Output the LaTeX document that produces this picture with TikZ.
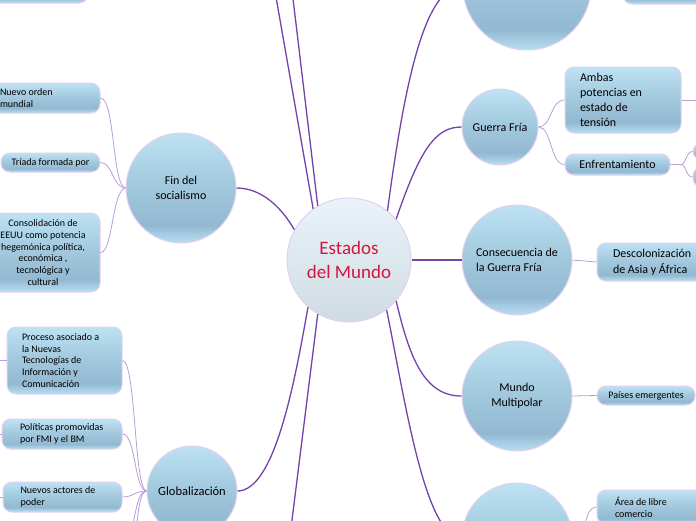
\documentclass[tikz,border=0pt]{standalone}
\usepackage{fontspec}
\setmainfont{Carlito}
\definecolor{btop}{RGB}{189,226,244}
\definecolor{bmid}{RGB}{163,201,222}
\definecolor{bdark}{RGB}{146,185,209}
\definecolor{bbot}{RGB}{184,224,243}
\definecolor{ctop}{RGB}{234,243,249}
\definecolor{cbot}{RGB}{207,219,227}
\definecolor{bord}{RGB}{226,208,240}
\definecolor{mainc}{RGB}{115,66,170}
\definecolor{subc}{RGB}{183,158,214}
\definecolor{crim}{RGB}{210,22,62}
\newcommand\natsp{\spaceskip=0pt\relax\xspaceskip=0pt\relax}
\pgfdeclareverticalshading{bub}{100bp}{color(0bp)=(bbot); color(25bp)=(bbot); color(33bp)=(bdark); color(52bp)=(bmid); color(75bp)=(btop); color(100bp)=(btop)}
\pgfdeclareverticalshading{ctr}{100bp}{color(0bp)=(cbot); color(25bp)=(cbot); color(75bp)=(ctop); color(100bp)=(ctop)}
\begin{document}
\begin{tikzpicture}[x=1pt,y=-1pt,
  bubble/.style={circle, draw=bord, line width=1pt, shade, shading=bub, inner sep=0pt, align=center, font=\fontsize{12}{15.5}\selectfont},
  leaf/.style={rectangle, rounded corners=9pt, draw=bord, line width=1pt, shade, shading=bub, inner ysep=0pt, font=\fontsize{10}{12}\selectfont},
  bigleaf/.style={leaf, font=\fontsize{12}{15}\selectfont},
  main/.style={draw=mainc, line width=1.3pt},
  sub/.style={draw=subc, line width=0.8pt}]
\useasboundingbox (0,0) rectangle (696,520);
\clip (0,0) rectangle (696,520);
% central and main nodes
\node[circle, draw=bord, line width=1pt, shade, shading=ctr, minimum size=124pt, inner sep=0pt, align=center, text=crim, font=\fontsize{19}{24}\selectfont] (center) at (349,260) {Estados\\del Mundo};
\node[bubble, minimum size=128pt] (tc) at (527,-14) {};
\node[bubble, minimum size=76pt] (guerra) at (500,127) {Guerra Fría};
\node[bubble, minimum size=110pt, align=left] (cons) at (517,260) {Consecuencia de\\la Guerra Fría};
\node[bubble, minimum size=110pt] (mundo) at (517,396) {Mundo\\Multipolar};
\node[bubble, minimum size=110pt] (bot) at (517,538) {};
\node[bubble, minimum size=110pt] (fin) at (181,188) {Fin del\\socialismo};
\node[bubble, minimum size=90pt, font=\fontsize{12.5}{15}\selectfont] (glob) at (192,491) {Globalización};
% leaves
\node[leaf, minimum width=98pt, minimum height=33pt] (tl) at (39,-13.5) {};
\node[leaf, minimum width=97pt, minimum height=34pt] (tr) at (671.5,-13) {};
\node[leaf, minimum width=110pt, minimum height=30pt, text width=90pt, inner xsep=10pt, align=left] (nuevo) at (45,98) {\natsp Nuevo orden\\mundial};
\node[leaf, minimum width=99pt, minimum height=19pt, align=center] (triada) at (50.5,162.5) {Tríada formada por};
\node[leaf, minimum width=114pt, minimum height=79pt, align=center, font=\fontsize{10}{11.8}\selectfont] (consol) at (43,252.5) {Consolidación de\\EEUU como potencia\\hegemónica política,\\económica ,\\tecnológica y\\cultural};
\node[leaf, minimum width=115pt, minimum height=67pt, text width=85pt, inner xsep=15pt, align=left, font=\fontsize{10}{11.8}\selectfont] (proc) at (64.5,360.5) {\natsp Proceso asociado a\\la Nuevas\\Tecnologías de\\Información y\\Comunicación};
\node[leaf, minimum width=120pt, minimum height=30pt, text width=84pt, inner xsep=18pt, align=left] (polit) at (62,434) {\natsp\mbox{Políticas promovidas}\\por FMI y el BM};
\node[leaf, minimum width=119pt, minimum height=30pt, text width=84pt, inner xsep=17pt, align=left] (nuevos) at (62.5,497) {\natsp Nuevos actores de\\poder};
\node[bigleaf, minimum width=116pt, minimum height=66pt, text width=86pt, inner xsep=15pt, align=left] (ambas) at (623,100) {\natsp Ambas\\potencias en\\estado de\\tensión};
\node[bigleaf, minimum width=105pt, minimum height=21pt, align=center] (enfr) at (617.5,164.5) {Enfrentamiento};
\node[leaf, minimum width=40pt, minimum height=17pt] (s1) at (713,151.5) {};
\node[leaf, minimum width=40pt, minimum height=20pt] (s2) at (713,177) {};
\node[bigleaf, minimum width=123pt, minimum height=38pt, text width=91pt, inner xsep=16pt, align=left, font=\fontsize{12}{16}\selectfont] (desc) at (658.5,262) {\natsp\mbox{Descolonización}\\de Asia y África};
\node[leaf, minimum width=98pt, minimum height=19pt, align=center] (paises) at (646,395.5) {Países emergentes};
\node[leaf, minimum width=123pt, minimum height=34pt, text width=87pt, inner xsep=18pt, align=left] (area) at (658.5,507) {\natsp Área de libre\\comercio};
% off-page ends
\coordinate (offA) at (266,-60);
\coordinate (offB) at (286,-60);
\coordinate (offD) at (282,600);
\coordinate (ambout) at (710,100);
\coordinate (fork) at (681,164.5);
\coordinate (gd1) at (124,570);
\coordinate (gd2) at (130,580);
\coordinate (pl) at (-10,360.5);
\coordinate (ql) at (-10,434);
\coordinate (rl) at (-10,497);
% main connectors
\draw[main] (center.125) -- (offA);
\draw[main] (center.120) -- (offB);
\draw[main] (center.52) .. controls (405,80) and (425,-14) .. (tc.west);
\draw[main] (center.41) .. controls (420,150) and (435,127) .. (guerra.west);
\draw[main] (center.east) -- (cons.west);
\draw[main] (center.-41) .. controls (410,360) and (425,396) .. (mundo.west);
\draw[main] (center.-53) .. controls (405,400) and (425,538) .. (bot.west);
\draw[main] (center.151) .. controls (280,205) and (260,188) .. (fin.east);
\draw[main] (center.-131) .. controls (295,380) and (275,491) .. (glob.east);
\draw[main] (center.-120) -- (offD);
% sub connectors
\draw[sub] (fin.west) .. controls (112,186) and (115,98) .. (nuevo.east);
\draw[sub] (fin.west) .. controls (112,187) and (113,162.5) .. (triada.east);
\draw[sub] (fin.west) .. controls (112,190) and (113,252.5) .. (consol.east);
\draw[sub] (guerra.east) .. controls (552,127) and (550,100) .. (ambas.west);
\draw[sub] (guerra.east) .. controls (552,127) and (550,164.5) .. (enfr.west);
\draw[sub] (ambas.east) -- (ambout);
\draw[sub] (enfr.east) -- (fork);
\draw[sub] (fork) .. controls (686,164.5) and (686,151.5) .. (s1.west);
\draw[sub] (fork) .. controls (686,164.5) and (686,177) .. (s2.west);
\draw[sub] (cons.east) -- (desc.west);
\draw[sub] (mundo.east) -- (paises.west);
\draw[sub] (bot.east) .. controls (588,538) and (583,507) .. (area.west);
\draw[sub] (glob.west) .. controls (134,490) and (136,360.5) .. (proc.east);
\draw[sub] (glob.west) .. controls (134,490) and (136,434) .. (polit.east);
\draw[sub] (glob.west) .. controls (134,491) and (134,497) .. (nuevos.east);
\draw[sub] (glob.west) .. controls (136,492) and (136,515) .. (gd1);
\draw[sub] (glob.west) .. controls (138,492) and (138,520) .. (gd2);
\draw[sub] (proc.west) -- (pl);
\draw[sub] (polit.west) -- (ql);
\draw[sub] (nuevos.west) -- (rl);
\end{tikzpicture}
\end{document}
